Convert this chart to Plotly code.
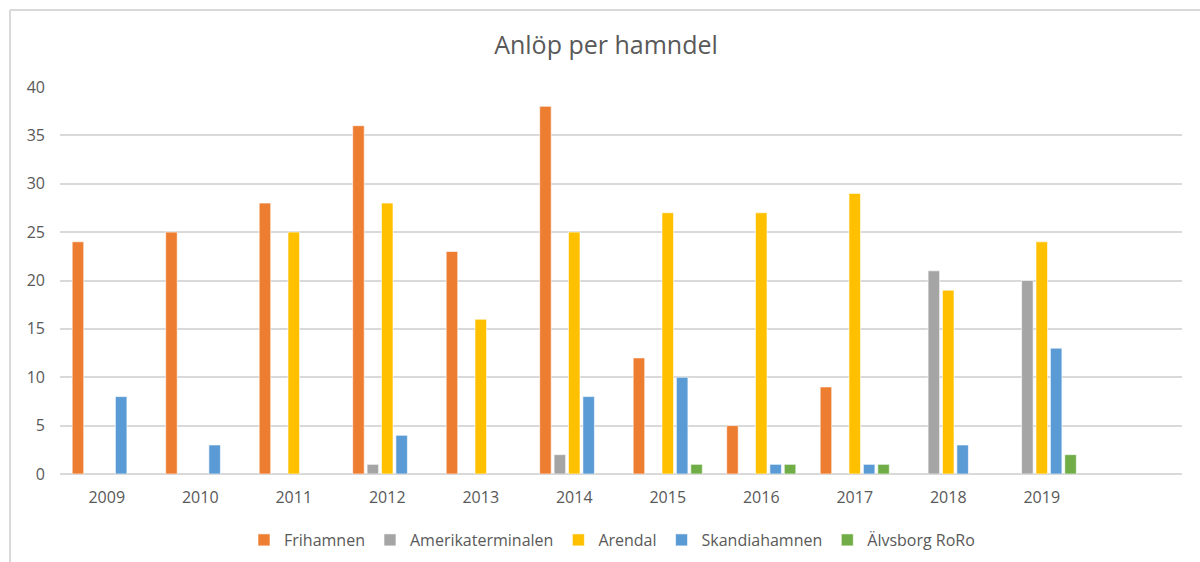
import plotly.graph_objects as go

years = ["2009", "2010", "2011", "2012", "2013", "2014", "2015", "2016", "2017", "2018", "2019"]
frihamnen = [24, 25, 28, 36, 23, 38, 12, 5, 9, None, None]
amerikaterminalen = [None, None, None, 1, None, 2, None, None, None, 21, 20]
arendal = [None, None, 25, 28, 16, 25, 27, 27, 29, 19, 24]
skandiahamnen = [8, 3, None, 4, None, 8, 10, 1, 1, 3, 13]
alvsborg = [None, None, None, None, None, None, 1, 1, 1, None, 2]

series = [
    ("Frihamnen", frihamnen, "#ED7D31"),
    ("Amerikaterminalen", amerikaterminalen, "#A5A5A5"),
    ("Arendal", arendal, "#FFC000"),
    ("Skandiahamnen", skandiahamnen, "#5B9BD5"),
    ("Älvsborg RoRo", alvsborg, "#70AD47"),
]

fig = go.Figure()
for name, vals, col in series:
    fig.add_trace(go.Bar(
        x=years, y=vals, name=name,
        marker=dict(color=col, line=dict(color="white", width=0.6)),
    ))

W, H = 1200, 562
ml, mr, mt, mb = 60, 18, 87, 88
pw = W - ml - mr
ph = H - mt - mb

def px_x(p):
    return (p - ml) / pw

def px_y(p):
    return (H - mb - p) / ph

fig.update_layout(
    width=W, height=H,
    margin=dict(l=ml, r=mr, t=mt, b=mb, autoexpand=False),
    paper_bgcolor="white", plot_bgcolor="white",
    barmode="group", bargap=0.23, bargroupgap=0.2,
    font=dict(family="Open Sans, Liberation Sans, sans-serif", color="#595959", size=15),
    title=dict(text="Anlöp per hamndel", x=606 / W, xref="container",
               xanchor="center", y=1 - 45 / H, yanchor="middle",
               font=dict(size=25, color="#595959")),
    xaxis=dict(type="category", range=[-0.5, 11.5], showgrid=False, automargin=False,
               showline=False, ticks="", zeroline=False, ticklabelstandoff=12,
               tickfont=dict(size=16, color="#595959")),
    yaxis=dict(range=[0, 40], dtick=5, showgrid=True, gridcolor="#D9D9D9", automargin=False,
               gridwidth=1.5, zeroline=True, zerolinecolor="#D9D9D9", zerolinewidth=1.5,
               showline=False, ticks="", ticklabelstandoff=14,
               tickfont=dict(size=16, color="#595959")),
    legend=dict(orientation="h", x=px_x(612), xanchor="center",
                y=px_y(540), yanchor="middle",
                font=dict(size=16, color="#595959"),
                itemwidth=30, traceorder="normal"),
    showlegend=True,
    shapes=[
        dict(type="line", xref="paper", yref="paper",
             x0=px_x(10), x1=px_x(1210), y0=px_y(10), y1=px_y(10),
             line=dict(color="#D9D9D9", width=2)),
        dict(type="line", xref="paper", yref="paper",
             x0=px_x(10), x1=px_x(10), y0=px_y(10), y1=px_y(570),
             line=dict(color="#D9D9D9", width=2)),
    ],
)

fig.write_html("out.html", config={"displayModeBar": False},
               post_script="document.body.style.margin='0';document.body.style.overflow='hidden';")
